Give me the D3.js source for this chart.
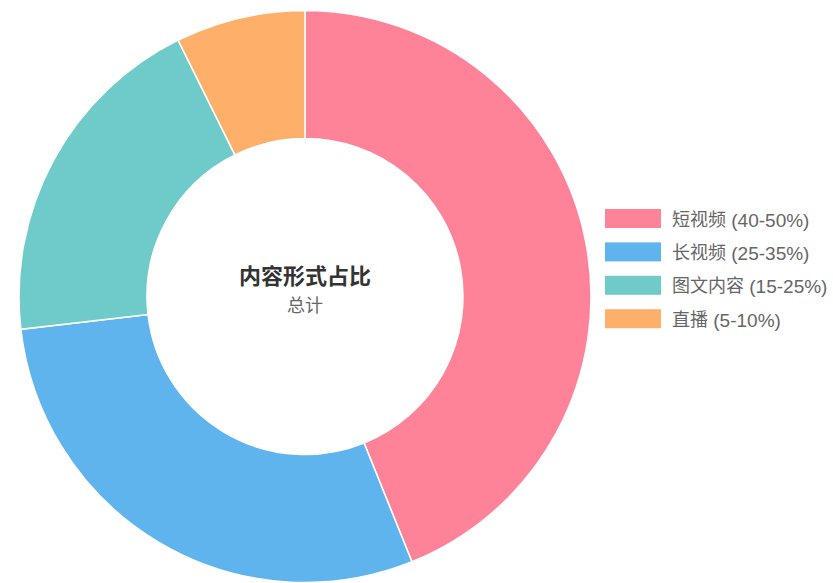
<!DOCTYPE html>
<html>
<head>
<meta charset="utf-8">
<script src="https://cdn.jsdelivr.net/npm/d3@7"></script>
<style>
  html, body { margin: 0; padding: 0; background: #fff; }
  svg { display: block; }
</style>
</head>
<body>
<svg id="chart" width="833" height="583"></svg>
<script>
// Content format share (donut)
const categories = ["短视频", "长视频", "图文内容", "直播"];
const rangeLabels = ["(40-50%)", "(25-35%)", "(15-25%)", "(5-10%)"];
const values = [45, 30, 20, 7.5];
const colors = ["#FE8399", "#5FB4EE", "#6FCBCA", "#FEB06A"];
const centerTitle = "内容形式占比";
const centerSubtitle = "总计";

const svg = d3.select("#chart");
const cx = 305, cy = 296.5;
const outerR = 286, innerR = 158;
const font = "'Liberation Sans', Arial, 'Noto Sans CJK SC', sans-serif";

const data = categories.map((c, i) => ({ name: c, range: rangeLabels[i], value: values[i], color: colors[i] }));

const pie = d3.pie().value(d => d.value).sort(null);
const arc = d3.arc().innerRadius(innerR).outerRadius(outerR);

const g = svg.append("g").attr("transform", `translate(${cx},${cy})`);
g.selectAll("path")
  .data(pie(data))
  .join("path")
  .attr("d", arc)
  .attr("fill", d => d.data.color)
  .attr("stroke", "#fff")
  .attr("stroke-width", 1.5);

// centre labels
g.append("text")
  .attr("text-anchor", "middle")
  .attr("y", -20)
  .attr("dominant-baseline", "central")
  .attr("font-family", font)
  .attr("font-size", 22)
  .attr("font-weight", "bold")
  .attr("fill", "#333")
  .text(centerTitle);
g.append("text")
  .attr("text-anchor", "middle")
  .attr("y", 9)
  .attr("dominant-baseline", "central")
  .attr("font-family", font)
  .attr("font-size", 18)
  .attr("fill", "#666")
  .text(centerSubtitle);

// legend
const legendX = 605, legendY = 209, rowGap = 33.4, boxW = 56, boxH = 19;
const legend = svg.append("g").attr("transform", `translate(${legendX},${legendY})`);
const rows = legend.selectAll("g")
  .data(data)
  .join("g")
  .attr("transform", (d, i) => `translate(0,${i * rowGap})`);
rows.append("rect")
  .attr("width", boxW)
  .attr("height", boxH)
  .attr("fill", d => d.color);
const labels = rows.append("text")
  .attr("x", boxW + 11)
  .attr("y", boxH / 2 + 1)
  .attr("dominant-baseline", "central")
  .attr("font-family", font)
  .attr("fill", "#666");
labels.append("tspan").attr("font-size", 18).text(d => d.name);
labels.append("tspan").attr("font-size", 19).text(d => ` ${d.range}`);
</script>
</body>
</html>
